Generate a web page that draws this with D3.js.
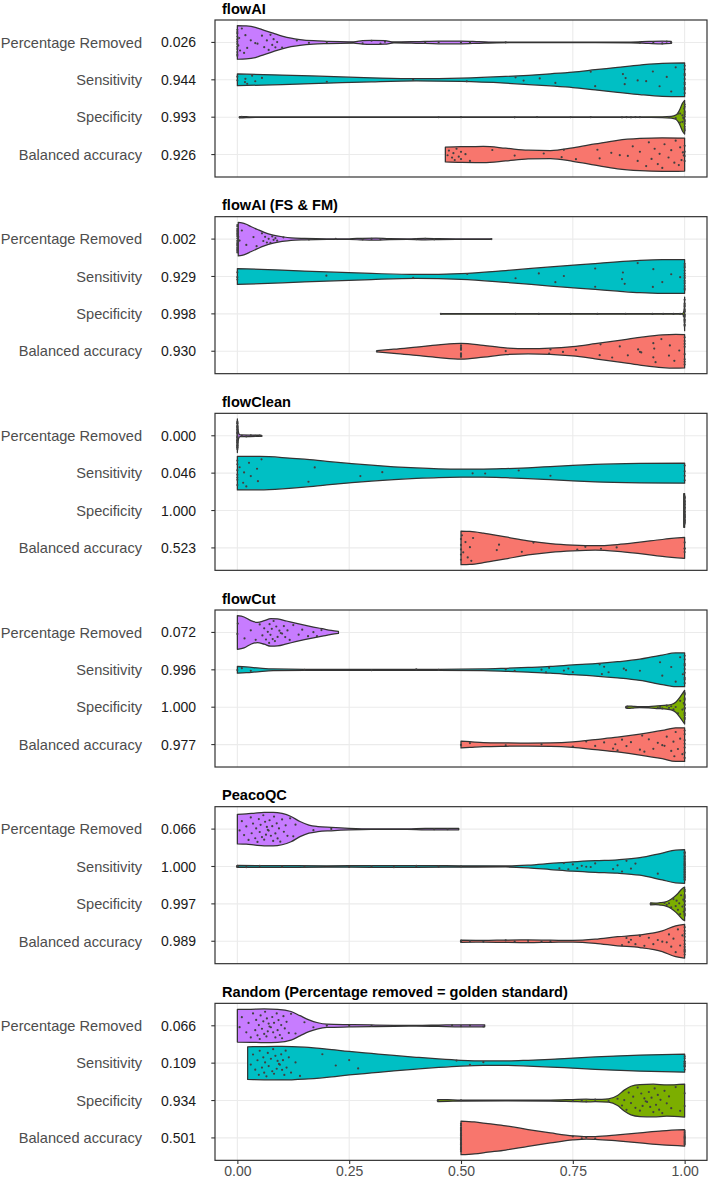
<!DOCTYPE html>
<html><head><meta charset="utf-8">
<script src="https://cdn.jsdelivr.net/npm/d3@7"></script>
<style>body{margin:0;background:#fff}svg{display:block}</style>
</head><body><svg id="c" width="709" height="1181"></svg>
<script>
// ---------------- DATA ----------------
const panelTitles = ["flowAI", "flowAI (FS & FM)", "flowClean", "flowCut", "PeacoQC",
  "Random (Percentage removed = golden standard)"];
const metrics = ["Percentage Removed", "Sensitivity", "Specificity", "Balanced accuracy"];
const metricColors = ["#C77CFF", "#00BFC4", "#7CAE00", "#F8766D"];
const medianLabels = [
  ["0.026", "0.944", "0.993", "0.926"],
  ["0.002", "0.929", "0.998", "0.930"],
  ["0.000", "0.046", "1.000", "0.523"],
  ["0.072", "0.996", "1.000", "0.977"],
  ["0.066", "1.000", "0.997", "0.989"],
  ["0.066", "0.109", "0.934", "0.501"]
];
const xTicks = [0, 0.25, 0.5, 0.75, 1];

// violin outlines: [value, relative half-width]
const violinsFlowAI = [
  [[0,1],[0.02,0.98],[0.04,0.9],[0.06,0.72],[0.08,0.55],[0.1,0.38],[0.12,0.25],[0.14,0.17],[0.17,0.1],[0.2,0.07],[0.23,0.05],[0.26,0.04],[0.28,0.1],[0.3,0.12],[0.33,0.1],[0.35,0.03],[0.4,0.05],[0.45,0.08],[0.5,0.08],[0.54,0.05],[0.58,0.02],[0.65,0.01],[0.8,0.01],[0.88,0.02],[0.92,0.06],[0.95,0.08],[0.97,0.06]],
  [[0,0.35],[0.1,0.28],[0.2,0.2],[0.3,0.12],[0.4,0.07],[0.5,0.1],[0.6,0.2],[0.7,0.36],[0.75,0.46],[0.8,0.6],[0.85,0.74],[0.9,0.88],[0.95,0.98],[1,1]],
  [[0.005,0.04],[0.02,0.03],[0.04,0.01],[0.3,0.01],[0.9,0.01],[0.95,0.02],[0.97,0.05],[0.98,0.12],[0.985,0.25],[0.99,0.5],[0.995,0.82],[1,1]],
  [[0.465,0.44],[0.5,0.47],[0.55,0.48],[0.6,0.38],[0.65,0.26],[0.7,0.24],[0.75,0.4],[0.8,0.63],[0.85,0.85],[0.9,0.96],[0.95,1],[1,0.98]]
];
const violinsFlowAIFSFM = [
  [[0.002,1],[0.01,0.97],[0.02,0.88],[0.03,0.75],[0.045,0.57],[0.06,0.4],[0.08,0.24],[0.1,0.14],[0.12,0.07],[0.15,0.04],[0.2,0.02],[0.25,0.02],[0.28,0.05],[0.31,0.06],[0.34,0.03],[0.38,0.02],[0.42,0.04],[0.45,0.03],[0.5,0.01],[0.568,0.01]],
  [[0,0.47],[0.1,0.38],[0.2,0.27],[0.3,0.18],[0.4,0.12],[0.5,0.17],[0.6,0.35],[0.7,0.57],[0.8,0.77],[0.85,0.87],[0.9,0.96],[0.95,1],[1,1]],
  [[0.455,0.005],[0.995,0.01],[0.999,0.2],[1,1]],
  [[0.312,0.04],[0.35,0.12],[0.4,0.25],[0.45,0.38],[0.5,0.47],[0.55,0.35],[0.6,0.2],[0.65,0.15],[0.7,0.18],[0.75,0.28],[0.8,0.45],[0.85,0.63],[0.9,0.82],[0.95,0.97],[0.98,1],[1,0.99]]
];
const violinsFlowClean = [
  [[0,1],[0.001,0.5],[0.003,0.15],[0.006,0.05],[0.05,0.04],[0.054,0.03]],
  [[0,1],[0.05,0.99],[0.1,0.93],[0.15,0.83],[0.2,0.7],[0.25,0.58],[0.3,0.47],[0.35,0.38],[0.4,0.31],[0.45,0.26],[0.5,0.24],[0.55,0.24],[0.6,0.27],[0.65,0.32],[0.7,0.39],[0.75,0.46],[0.8,0.52],[0.9,0.58],[1,0.6]],
  [[0.998,1],[1,1]],
  [[0.5,1],[0.52,0.98],[0.55,0.88],[0.6,0.65],[0.65,0.42],[0.7,0.26],[0.75,0.17],[0.8,0.13],[0.85,0.2],[0.9,0.34],[0.95,0.5],[1,0.62]]
];
const violinsFlowCut = [
  [[0,1],[0.015,0.92],[0.03,0.7],[0.045,0.6],[0.06,0.7],[0.075,0.82],[0.09,0.8],[0.11,0.68],[0.13,0.55],[0.15,0.43],[0.17,0.32],[0.19,0.22],[0.21,0.12],[0.226,0.06]],
  [[0,0.2],[0.02,0.17],[0.05,0.1],[0.08,0.05],[0.15,0.03],[0.3,0.03],[0.45,0.03],[0.55,0.05],[0.6,0.09],[0.65,0.14],[0.7,0.2],[0.75,0.29],[0.8,0.37],[0.85,0.48],[0.9,0.63],[0.95,0.88],[0.98,1],[1,1]],
  [[0.869,0.05],[0.875,0.07],[0.885,0.05],[0.9,0.03],[0.92,0.04],[0.94,0.08],[0.96,0.12],[0.97,0.16],[0.98,0.3],[0.99,0.62],[1,1]],
  [[0.5,0.2],[0.52,0.17],[0.55,0.12],[0.6,0.1],[0.65,0.09],[0.7,0.1],[0.75,0.16],[0.8,0.3],[0.85,0.44],[0.9,0.62],[0.95,0.84],[0.98,1],[1,1]]
];
const violinsPeacoQC = [
  [[0,0.88],[0.02,0.9],[0.04,0.95],[0.06,0.99],[0.08,1],[0.1,0.93],[0.12,0.75],[0.14,0.45],[0.16,0.24],[0.18,0.15],[0.21,0.1],[0.25,0.05],[0.3,0.02],[0.38,0.02],[0.42,0.05],[0.46,0.05],[0.495,0.04]],
  [[0,0.06],[0.1,0.05],[0.2,0.04],[0.3,0.05],[0.4,0.05],[0.5,0.04],[0.6,0.03],[0.65,0.08],[0.7,0.18],[0.75,0.28],[0.8,0.35],[0.85,0.4],[0.9,0.52],[0.95,0.8],[0.98,0.97],[1,1]],
  [[0.924,0.06],[0.935,0.05],[0.945,0.07],[0.955,0.1],[0.965,0.2],[0.975,0.38],[0.985,0.62],[0.995,0.92],[1,1]],
  [[0.5,0.06],[0.55,0.05],[0.6,0.07],[0.65,0.08],[0.7,0.06],[0.75,0.05],[0.8,0.12],[0.85,0.27],[0.9,0.38],[0.95,0.62],[0.98,0.92],[1,1]]
];
const violinsRandom = [
  [[0,0.97],[0.03,0.98],[0.06,1],[0.09,0.98],[0.12,0.85],[0.14,0.6],[0.16,0.35],[0.18,0.18],[0.2,0.1],[0.25,0.07],[0.3,0.05],[0.35,0.03],[0.4,0.02],[0.45,0.04],[0.5,0.06],[0.553,0.06]],
  [[0.023,0.97],[0.06,0.99],[0.1,1],[0.15,0.95],[0.2,0.84],[0.25,0.7],[0.3,0.58],[0.35,0.46],[0.4,0.35],[0.45,0.25],[0.5,0.17],[0.55,0.13],[0.6,0.13],[0.65,0.17],[0.7,0.23],[0.75,0.3],[0.8,0.37],[0.9,0.48],[1,0.54]],
  [[0.448,0.06],[0.47,0.05],[0.5,0.03],[0.6,0.02],[0.7,0.03],[0.75,0.06],[0.78,0.08],[0.8,0.07],[0.83,0.1],[0.85,0.3],[0.865,0.62],[0.88,0.85],[0.9,0.95],[0.93,0.97],[0.96,0.93],[1,0.98]],
  [[0.5,1],[0.53,0.95],[0.56,0.85],[0.6,0.72],[0.65,0.5],[0.7,0.3],[0.75,0.12],[0.78,0.07],[0.8,0.08],[0.85,0.18],[0.9,0.3],[0.95,0.42],[1,0.49]]
];

// observed values (points)
const pointsFlowAI = [
  [0,0,0,0,0,0,0,0,0,0,0,0,0.002,0.004,0.006,0.01,0.015,0.018,0.022,0.03,0.04,0.045,0.055,0.06,0.066,0.07,0.074,0.078,0.081,0.085,0.089,0.1,0.133,0.16,0.2,0.28,0.3,0.32,0.33,0.42,0.45,0.5,0.52,0.6,0.9,0.93,0.95,0.96,0.97],
  [0,0,0.017,0.018,0.022,0.033,0.04,0.055,0.2,0.393,0.513,0.622,0.64,0.676,0.711,0.79,0.8,0.862,0.866,0.868,0.895,0.914,0.929,0.944,0.96,0.97,0.98,1,1,1,1,1,1,1,1,1,1],
  [0.005,0.01,0.45,0.5,0.62,0.67,0.745,0.79,0.86,0.87,0.88,0.89,0.9,0.965,0.98,0.985,0.99,0.99,0.995,0.995,0.997,0.998,0.999,1,1,1,1,1,1,1,1,1,1,1,1],
  [0.47,0.473,0.48,0.483,0.486,0.49,0.495,0.5,0.5,0.51,0.52,0.57,0.62,0.685,0.725,0.73,0.757,0.805,0.81,0.836,0.855,0.873,0.884,0.895,0.9,0.914,0.92,0.926,0.933,0.94,0.944,0.95,0.955,0.964,0.97,0.977,0.98,0.987,0.99,0.993,0.996,0.998,1,1,1,1]
];
const pointsFlowAIFSFM = [
  [0,0,0,0,0,0,0,0,0,0,0,0,0,0,0,0,0,0,0,0.002,0.002,0.005,0.01,0.02,0.036,0.043,0.055,0.058,0.062,0.066,0.07,0.074,0.078,0.081,0.085,0.089,0.103,0.16,0.22,0.28,0.3,0.32,0.4,0.42,0.44,0.568],
  [0,0,0,0.199,0.393,0.514,0.622,0.674,0.711,0.73,0.8,0.8,0.86,0.862,0.866,0.895,0.929,0.93,0.95,0.97,0.99,1,1,1,1,1,1,1,1,1,1,1,1],
  [0.455,0.622,0.674,0.745,0.805,0.868,0.928,0.952,0.975,0.99,0.998,1,1,1,1,1,1,1,1,1,1,1,1,1,1,1],
  [0.312,0.5,0.5,0.5,0.5,0.5,0.5,0.5,0.5,0.6,0.697,0.7,0.728,0.757,0.81,0.812,0.838,0.855,0.873,0.896,0.9,0.903,0.93,0.93,0.932,0.935,0.948,0.965,0.967,0.977,0.988,1,1,1,1,1,1,1,1]
];
const pointsFlowClean = [
  [0,0,0,0,0,0,0,0,0,0,0,0,0,0,0,0,0,0,0,0,0,0,0,0,0,0,0,0,0,0,0.01,0.02,0.03,0.04,0.05,0.054],
  [0,0,0,0,0,0,0,0.005,0.013,0.015,0.02,0.026,0.03,0.044,0.046,0.054,0.159,0.173,0.275,0.324,0.526,0.554,0.629,0.7,1,1,1,1],
  [1,1,1,1,1,1,1,1,1,1,1,1,1,1,1,1,1,1,1,1,1,1,1,1,1,1,1,1,1,1],
  [0.5,0.5,0.5,0.5,0.5,0.502,0.505,0.51,0.515,0.52,0.523,0.527,0.58,0.585,0.636,0.662,0.76,0.778,0.813,0.848,1,1,1,1]
];
const pointsFlowCut = [
  [0,0.001,0.016,0.03,0.041,0.05,0.056,0.06,0.064,0.068,0.071,0.072,0.074,0.077,0.079,0.081,0.084,0.087,0.09,0.094,0.097,0.1,0.104,0.107,0.112,0.117,0.125,0.137,0.145,0.158,0.17,0.178,0.188],
  [0,0.01,0.03,0.15,0.3,0.4,0.45,0.6,0.62,0.68,0.69,0.697,0.73,0.74,0.75,0.81,0.815,0.82,0.83,0.864,0.869,0.9,0.945,0.95,0.97,0.98,0.99,0.996,1,1,1,1,1,1,1,1,1],
  [0.869,0.872,0.94,0.945,0.95,0.96,0.965,0.97,0.975,0.98,0.985,0.99,0.995,0.998,1,1,1,1,1,1,1,1,1,1,1,1,1],
  [0.5,0.52,0.6,0.68,0.75,0.78,0.8,0.82,0.84,0.845,0.85,0.86,0.87,0.88,0.9,0.905,0.91,0.92,0.93,0.94,0.95,0.955,0.96,0.97,0.975,0.977,0.98,0.985,0.99,0.995,1,1,1,1,1,1,1]
];
const pointsPeacoQC = [
  [0.005,0.01,0.015,0.02,0.025,0.03,0.032,0.035,0.04,0.042,0.045,0.048,0.05,0.052,0.055,0.058,0.06,0.062,0.064,0.066,0.068,0.07,0.072,0.075,0.078,0.08,0.082,0.085,0.088,0.09,0.093,0.096,0.1,0.104,0.108,0.112,0.118,0.125,0.13,0.17,0.21,0.44,0.47],
  [0,0,0,0,0.02,0.05,0.1,0.15,0.25,0.3,0.35,0.4,0.45,0.5,0.72,0.73,0.74,0.75,0.76,0.77,0.78,0.79,0.8,0.84,0.85,0.86,0.87,0.88,0.89,0.94,1,1,1,1,1,1,1,1,1,1,1,1,1,1,1,1,1,1,1,1,1,1,1,1,1,1,1,1,1,1,1,1],
  [0.924,0.955,0.96,0.965,0.97,0.975,0.98,0.982,0.985,0.988,0.99,0.992,0.995,0.997,0.998,1,1,1,1,1,1,1,1,1,1,1,1,1,1,1],
  [0.5,0.5,0.5,0.52,0.55,0.6,0.62,0.65,0.68,0.7,0.86,0.87,0.875,0.88,0.89,0.9,0.91,0.92,0.93,0.94,0.95,0.96,0.965,0.97,0.975,0.98,0.985,0.99,0.995,1,1,1,1,1,1,1,1,1,1,1]
];
const pointsRandom = [
  [0.005,0.01,0.02,0.025,0.03,0.035,0.04,0.042,0.045,0.048,0.05,0.052,0.055,0.058,0.06,0.062,0.065,0.066,0.068,0.07,0.072,0.075,0.078,0.08,0.082,0.085,0.088,0.09,0.092,0.095,0.098,0.1,0.103,0.106,0.11,0.115,0.12,0.13,0.15,0.17,0.2,0.25,0.3,0.48,0.5,0.52,0.55],
  [0.03,0.035,0.04,0.045,0.048,0.05,0.055,0.058,0.06,0.062,0.065,0.068,0.07,0.075,0.078,0.08,0.082,0.085,0.088,0.09,0.093,0.095,0.098,0.1,0.102,0.105,0.108,0.11,0.115,0.12,0.13,0.14,0.19,0.22,0.25,0.27,0.49,0.52,0.55,1,1,1,1,1,1,1,1,1,1],
  [0.448,0.5,0.75,0.77,0.78,0.8,0.83,0.85,0.86,0.865,0.87,0.875,0.88,0.885,0.89,0.895,0.9,0.903,0.906,0.91,0.913,0.916,0.92,0.923,0.926,0.93,0.933,0.936,0.94,0.943,0.946,0.95,0.955,0.96,0.965,0.97,0.98,0.99,1,1],
  [0.5,0.5,0.5,0.5,0.5,0.5,0.5,0.5,0.5,0.5,0.5,0.5,0.5,0.5,0.5,0.5,0.5,0.5,0.5,0.5,0.5,0.5,0.5,0.5,0.5,0.5,0.75,0.77,0.78,0.8,1,1,1,1,1,1,1,1,1,1,1,1]
];
// fixed vertical spread pattern (fraction of local violin half-width)
const spread = [0.1,-0.6,0.45,-0.2,0.8,-0.85,0.3,-0.4,0.65,-0.05,0.9,-0.7,0.2,-0.3,0.55,-0.95,0.72,-0.5,0.38,-0.15,0.05];

const allViolins = [violinsFlowAI, violinsFlowAIFSFM, violinsFlowClean, violinsFlowCut, violinsPeacoQC, violinsRandom];
const allPoints = [pointsFlowAI, pointsFlowAIFSFM, pointsFlowClean, pointsFlowCut, pointsPeacoQC, pointsRandom];

// ---------------- DRAW ----------------
const FONT = "'Liberation Sans', Arial, Helvetica, sans-serif";
const svg = d3.select("#c");
const PL = 215, PR = 707, TOP0 = 20, PITCH = 196.67, PH = 157;
const step = PH / 4.2;
const maxHW = 0.45 * step;
const x = d3.scaleLinear().domain([-0.05, 1.05]).range([PL, PR]);

panelTitles.forEach((title, pi) => {
  const top = TOP0 + pi * PITCH;
  const y = d3.scalePoint().domain(metrics).range([top + 0.6 * step, top + PH - 0.6 * step]);
  const g = svg.append("g");

  // grid
  g.selectAll(".gx").data(xTicks).enter().append("line")
    .attr("x1", d => x(d)).attr("x2", d => x(d)).attr("y1", top).attr("y2", top + PH)
    .attr("stroke", "#EBEBEB").attr("stroke-width", 1.1);
  g.selectAll(".gy").data(metrics).enter().append("line")
    .attr("x1", PL).attr("x2", PR).attr("y1", d => y(d)).attr("y2", d => y(d))
    .attr("stroke", "#EBEBEB").attr("stroke-width", 1.1);

  // violins
  metrics.forEach((m, mi) => {
    const prof = allViolins[pi][mi];
    const cy = y(m);
    const area = d3.area()
      .x(d => x(d[0]))
      .y0(d => cy + Math.max(d[1] * maxHW, 0.3))
      .y1(d => cy - Math.max(d[1] * maxHW, 0.3))
      .curve(d3.curveMonotoneX);
    g.append("path").attr("d", area(prof))
      .attr("fill", metricColors[mi]).attr("stroke", "#333333").attr("stroke-width", 1.25)
      .attr("stroke-linejoin", "round");
    const hw = d3.scaleLinear().domain(prof.map(d => d[0])).range(prof.map(d => d[1])).clamp(true);
    const pts = allPoints[pi][mi];
    g.selectAll(null).data(pts).enter().append("circle")
      .attr("cx", d => x(d))
      .attr("cy", (d, i) => cy + spread[i % spread.length] * hw(d) * maxHW * 0.88)
      .attr("r", 1.1).attr("fill", "#404040");
  });

  // border
  g.append("rect").attr("x", PL).attr("y", top).attr("width", PR - PL).attr("height", PH)
    .attr("fill", "none").attr("stroke", "#333333").attr("stroke-width", 1.2);

  // y ticks + labels
  metrics.forEach((m, mi) => {
    const cy = y(m);
    g.append("line").attr("x1", PL - 3.7).attr("x2", PL).attr("y1", cy).attr("y2", cy)
      .attr("stroke", "#333333").attr("stroke-width", 1.1);
    g.append("text").attr("x", 142).attr("y", cy).attr("dy", "0.36em")
      .attr("text-anchor", "end").attr("font-family", FONT).attr("font-size", 14.6)
      .attr("fill", "#4D4D4D").text(m);
    g.append("text").attr("x", 196).attr("y", cy).attr("dy", "0.36em")
      .attr("text-anchor", "end").attr("font-family", FONT).attr("font-size", 14)
      .attr("fill", "#1A1A1A").text(medianLabels[pi][mi]);
  });

  // title
  g.append("text").attr("x", 222).attr("y", top - 6.5)
    .attr("font-family", FONT).attr("font-size", 14.6).attr("font-weight", "bold")
    .attr("fill", "#000").text(title);

  // x axis on last panel
  if (pi === panelTitles.length - 1) {
    const ax = g.append("g").attr("transform", `translate(0,${top + PH})`)
      .call(d3.axisBottom(x).tickValues(xTicks).tickFormat(d3.format(".2f")).tickSize(3.7).tickPadding(2.5));
    ax.select(".domain").remove();
    ax.selectAll("line").attr("stroke", "#333333").attr("stroke-width", 1.1);
    ax.selectAll("text").attr("font-family", FONT).attr("font-size", 14).attr("fill", "#4D4D4D");
  }
});
</script>
</body></html>
